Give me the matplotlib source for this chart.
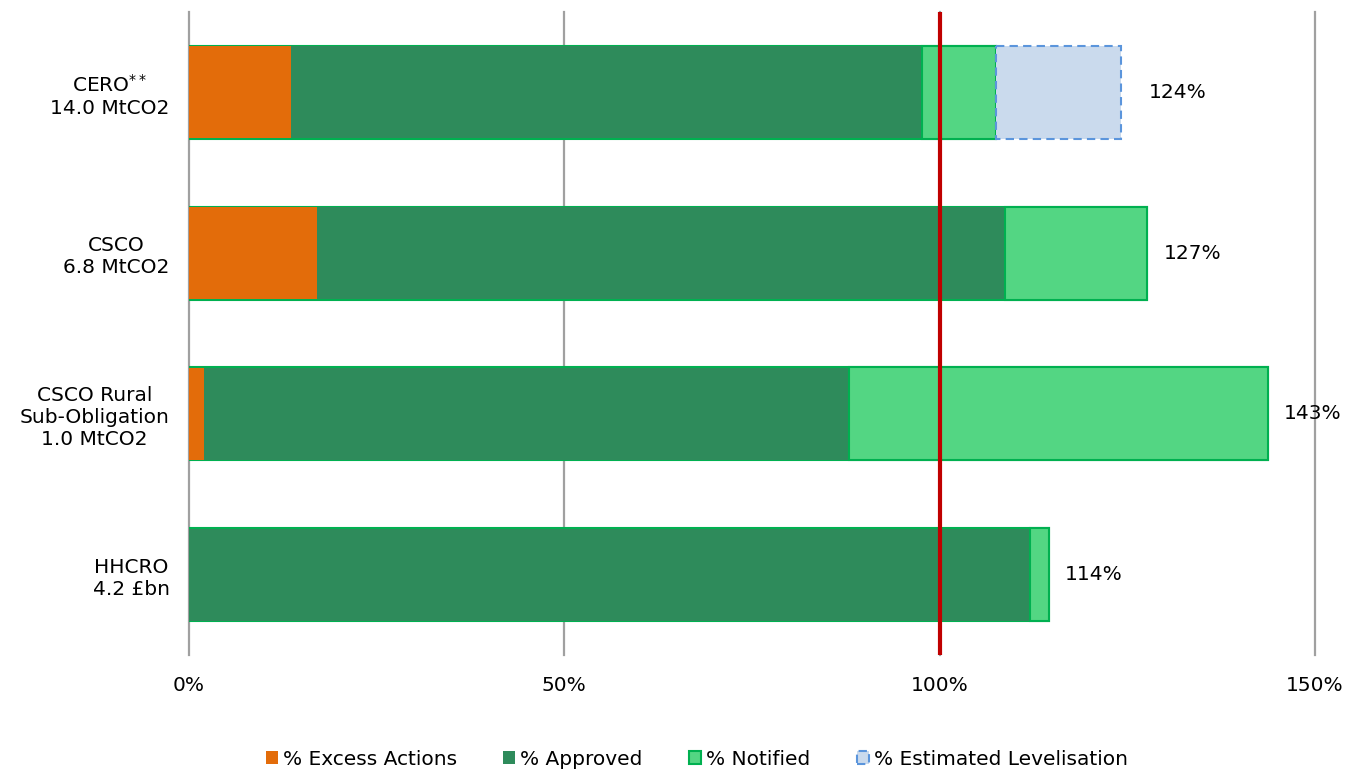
import matplotlib
matplotlib.use("Agg")
import matplotlib.pyplot as plt
import numpy as np

categories = ["CERO$^{**}$\n14.0 MtCO2", "CSCO\n6.8 MtCO2",
              "CSCO Rural\nSub-Obligation\n1.0 MtCO2", "HHCRO\n4.2 £bn"]
excess = [13.6, 17.1, 2.0, 0.0]
approved = [84.0, 91.6, 85.9, 112.1]
notified = [9.9, 18.9, 55.8, 2.4]
levelisation = [16.6, 0.0, 0.0, 0.0]
total_labels = ["124%", "127%", "143%", "114%"]
xticks = [0, 50, 100, 150]
xtick_labels = ["0%", "50%", "100%", "150%"]
target = 100

plt.rcParams['font.family'] = ['DejaVu Sans']
plt.rcParams['mathtext.fontset'] = 'dejavusans'
FS = 14.5

fig = plt.figure(figsize=(13.61, 7.69), dpi=100)
ax = fig.add_axes([189/1361, 1-655/769, (1315-189)/1361, (655-12)/769])

y = np.arange(len(categories))
h = 0.58
exc = np.array(excess); app = np.array(approved); noti = np.array(notified); lev = np.array(levelisation)

c_exc = '#E36C0A'
c_app = '#2E8B5B'
c_not = '#53D683'
c_not_edge = '#00B050'
c_lev = '#CADAED'
c_lev_edge = '#5B95DC'

for xv in xticks:
    ax.axvline(xv, color='#A0A0A0', lw=1.6, zorder=0, clip_on=False)

# outline of the whole bar
ax.barh(y, exc + app + noti, height=h, color=c_not, edgecolor=c_not_edge, lw=1.5, zorder=1)
ax.barh(y, exc, height=h*0.985, color=c_exc, edgecolor='none', zorder=2, label='% Excess Actions')
ax.barh(y, app, left=exc, height=h*0.985, color=c_app, edgecolor='none', zorder=2, label='% Approved')
ax.barh(y, noti, left=exc + app, height=h, color=c_not, edgecolor=c_not_edge, lw=1.5, zorder=3, label='% Notified')
mask = lev > 0
ax.barh(y[mask], lev[mask], left=(exc + app + noti)[mask], height=h, color=c_lev,
        edgecolor=c_lev_edge, lw=1.5, linestyle=(0, (4, 2.5)), zorder=3, label='% Estimated Levelisation')

ax.axvline(target, color='#C00000', lw=3, zorder=5)

tot = exc + app + noti + lev
for i in range(len(categories)):
    pad = 3.7 if lev[i] > 0 else 2.2
    ax.text(tot[i] + pad, y[i], total_labels[i], va='center', ha='left', fontsize=FS, color='#000000')

ax.set_xlim(0, 150)
ax.set_ylim(3.5, -0.5)
ax.set_xticks(xticks)
ax.set_xticklabels(xtick_labels, fontsize=FS)
ax.set_yticks(y)
ax.set_yticklabels(categories, fontsize=FS, multialignment='center')
ax.tick_params(axis='both', length=0)
ax.tick_params(axis='x', pad=15)
ax.tick_params(axis='y', pad=14)
for s in ax.spines.values():
    s.set_visible(False)

handles, labels = ax.get_legend_handles_labels()
leg = fig.legend(handles, labels, loc='center', bbox_to_anchor=(0.512, 0.013), ncol=4,
                 frameon=False, fontsize=FS, handlelength=0.6, handleheight=0.6,
                 handletextpad=0.25, columnspacing=2.3)

fig.savefig('out.png', dpi=100)
